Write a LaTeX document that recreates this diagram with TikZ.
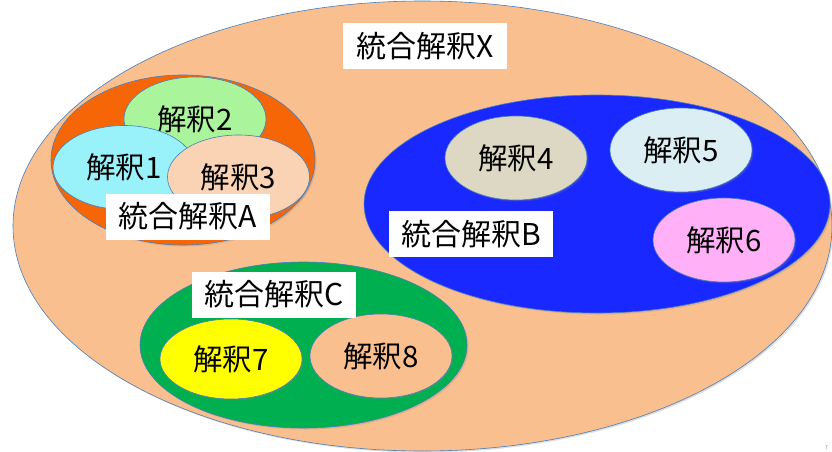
\documentclass[tikz,border=0pt]{standalone}
\usepackage{fontspec}
\setmainfont{Noto Sans CJK JP}
\usetikzlibrary{shapes.geometric,shadows}
\definecolor{edgeblue}{RGB}{74,126,187}
\definecolor{peachX}{RGB}{249,191,143}
\definecolor{orangeA}{RGB}{246,102,6}
\definecolor{cyan1}{RGB}{153,242,250}
\definecolor{green2}{RGB}{170,245,155}
\definecolor{peach3}{RGB}{250,211,180}
\definecolor{blueB}{RGB}{24,40,255}
\definecolor{beige4}{RGB}{221,216,195}
\definecolor{ice5}{RGB}{218,238,243}
\definecolor{pink6}{RGB}{255,176,246}
\definecolor{greenC}{RGB}{0,176,80}
\definecolor{yellow7}{RGB}{255,255,0}
\tikzset{
  oval/.style={ellipse, draw=edgeblue, line width=0.6pt, inner sep=0pt,
    drop shadow={shadow xshift=1.5pt, shadow yshift=-1.5pt, opacity=0.25}},
  small/.style={oval, minimum width=142pt, minimum height=84pt,
    font=\fontsize{29.5}{34}\selectfont},
  labelbox/.style={fill=white, inner sep=0pt, minimum width=164pt,
    minimum height=46pt, font=\fontsize{30}{35}\selectfont}
}
\begin{document}
\begin{tikzpicture}[x=1pt,y=-1pt]
\useasboundingbox[fill=white] (0,0) rectangle (832,452);
% big ellipse X
\node[oval, fill=peachX, minimum width=819pt, minimum height=450pt] (X) at (422.5,226) {};
\node[labelbox] (labX) at (425,46) {統合解釈X};
% group A
\node[oval, fill=orangeA, minimum width=264pt, minimum height=170pt] (A) at (183,160) {};
\node[small, fill=green2] (e2) at (195,119) {解釈2};
\node[small, fill=cyan1] (e1) at (124,167.5) {解釈1};
\node[small, fill=peach3] (e3) at (238.5,177) {解釈3};
\node[labelbox] (labA) at (188,216.5) {統合解釈A};
% group B
\node[oval, fill=blueB, minimum width=466pt, minimum height=218pt] (B) at (597,204) {};
\node[small, fill=beige4] (e4) at (516,158) {解釈4};
\node[small, fill=ice5] (e5) at (681,150) {解釈5};
\node[small, fill=pink6] (e6) at (724,240) {解釈6};
\node[labelbox] (labB) at (471,234) {統合解釈B};
% group C
\node[oval, fill=greenC, minimum width=327pt, minimum height=166pt] (C) at (303.5,345) {};
\node[small, fill=yellow7, minimum height=80pt] (e7) at (231,359) {解釈7};
\node[small, fill=peachX] (e8) at (381,356) {解釈8};
\node[labelbox] (labC) at (274,294.5) {統合解釈C};
% page number
\node[text=gray, font=\fontsize{5}{6}\selectfont, inner sep=0pt] (pg) at (826.5,447.5) {7};
\end{tikzpicture}
\end{document}
